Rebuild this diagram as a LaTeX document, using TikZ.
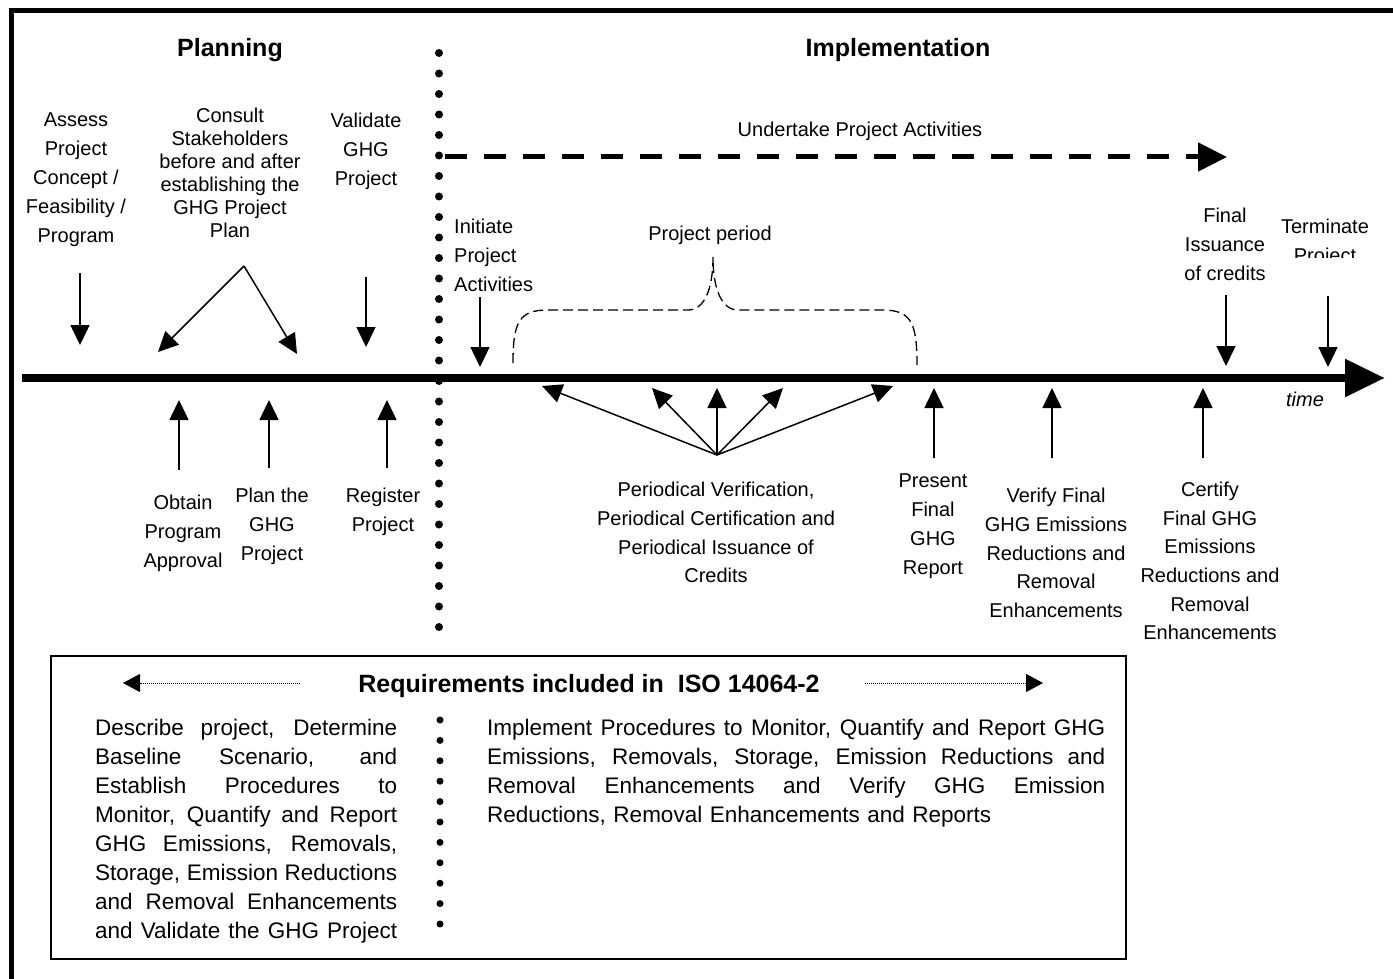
\documentclass[tikz,border=0pt]{standalone}
\usepackage{fontspec}
\setmainfont{Liberation Sans}
\usetikzlibrary{arrows.meta}

% a line of text whose inter-word spaces stretch to the given width
\newcommand{\fullline}[2]{\hbox to #1{\spaceskip=0.278em plus 1fil\relax #2}}

\begin{document}
\begin{tikzpicture}[x=1pt,y=-1pt,
  lbl/.style={inner sep=0pt, anchor=north, align=center, font=\fontsize{20}{29}\selectfont},
  ttl/.style={inner sep=0pt, anchor=north, font=\fontsize{25}{30}\selectfont\bfseries},
  boxtext/.style={inner sep=0pt, anchor=north west, align=left, font=\fontsize{22.5}{29}\selectfont},
  thinarrow/.style={line width=1.5pt, -{Triangle[length=20pt,width=19pt]}},
  dotarrow/.style={line width=0.8pt, dash pattern=on 0.8pt off 1.2pt, -{Triangle[length=17pt,width=18pt]}},
  bigdot/.style={fill=black}
]
\useasboundingbox (0,0) rectangle (1393,979);

% frame (top and left edges)
\coordinate (frTL) at (8.5,10.5);
\coordinate (frTR) at (1393,10.5);
\coordinate (frBL) at (11,979);
\draw[line width=5pt] (frTR) -- (frTL);
\draw[line width=5pt] (11,8) -- (frBL);

% headings
\node[ttl] (planning) at (230,38) {Planning};
\node[ttl] (implementation) at (898,38) {Implementation};

% time axis
\coordinate (tl0) at (22,378);
\coordinate (tl1) at (1385,378);
\draw[line width=8.5pt, -{Triangle[length=40pt,width=36pt]}] (tl0) -- (tl1);
\node[inner sep=0pt, anchor=north, font=\fontsize{20}{24}\selectfont\itshape] (time) at (1305,392) {time};

% undertake project activities
\node[lbl] (undertake) at (860,122) {Undertake Project Activities};
\coordinate (und0) at (445,157);
\coordinate (und1) at (1227,157);
\draw[line width=5pt, dash pattern=on 22pt off 17pt, -{Triangle[length=29pt,width=28pt]}] (und0) -- (und1);

% planning / implementation separator
\foreach \i in {0,...,28}
  \fill[bigdot] (439,{53+20.5*\i}) circle (4pt);

% labels above the axis
\node[lbl] (assess) at (76,113) {Assess\\Project\\Concept /\\Feasibility /\\Program};
\node[lbl, font=\fontsize{20}{23}\selectfont] (consult) at (230,108)
  {Consult\\Stakeholders\\before and after\\establishing the\\GHG Project\\Plan};
\node[lbl] (validate) at (366,113) {Validate\\GHG\\Project};
\node[lbl, anchor=north west, align=left] (initiate) at (454,219) {Initiate\\Project\\Activities};
\node[lbl] (period) at (710,226) {Project period};
\node[lbl] (finaliss) at (1225,208) {Final\\Issuance\\of credits};
\begin{scope}
  \clip (1262,190) rectangle (1393,257);
  \node[lbl] (terminate) at (1325,219) {Terminate\\Project};
\end{scope}

% arrows down to the axis
\coordinate (as0) at (80,273);   \coordinate (as1) at (80,345);
\draw[thinarrow] (as0) -- (as1);
\coordinate (co0) at (244,266);
\coordinate (co1) at (158,352);  \coordinate (co2) at (297,354);
\draw[thinarrow] (co0) -- (co1);
\draw[thinarrow] (co0) -- (co2);
\coordinate (va0) at (366,277);  \coordinate (va1) at (366,347);
\draw[thinarrow] (va0) -- (va1);
\coordinate (in0) at (480,297);  \coordinate (in1) at (480,367);
\draw[thinarrow] (in0) -- (in1);
\coordinate (fi0) at (1226,295); \coordinate (fi1) at (1226,366);
\draw[thinarrow] (fi0) -- (fi1);
\coordinate (te0) at (1328,296); \coordinate (te1) at (1328,367);
\draw[thinarrow] (te0) -- (te1);

% project period brace
\draw[line width=1.3pt, dash pattern=on 10pt off 5pt]
  (513,363) .. controls (513,322) and (519,310) .. (548,310) -- (688,310)
  .. controls (704,310) and (713,290) .. (713,257)
  .. controls (713,290) and (722,310) .. (738,310) -- (882,310)
  .. controls (911,310) and (917,322) .. (917,365);

% labels below the axis
\node[lbl] (obtain) at (183,495) {Obtain\\Program\\Approval};
\node[lbl] (plan) at (272,488) {Plan the\\GHG\\Project};
\node[lbl] (register) at (383,488) {Register\\Project};
\node[lbl, font=\fontsize{20}{28.7}\selectfont] (periodical) at (716,482)
  {Periodical Verification,\\Periodical Certification and\\Periodical Issuance of\\Credits};
\node[lbl] (present) at (933,474) {Present\\Final\\GHG\\Report};
\node[lbl, font=\fontsize{20}{28.7}\selectfont] (verify) at (1056,488)
  {Verify Final\\GHG Emissions\\Reductions and\\Removal\\Enhancements};
\node[lbl, font=\fontsize{20}{28.6}\selectfont] (certify) at (1210,482)
  {Certify\\Final GHG\\Emissions\\Reductions and\\Removal\\Enhancements};

% arrows up to the axis
\coordinate (ob0) at (179,470);  \coordinate (ob1) at (179,400);
\draw[thinarrow] (ob0) -- (ob1);
\coordinate (pl0) at (269,468);  \coordinate (pl1) at (269,400);
\draw[thinarrow] (pl0) -- (pl1);
\coordinate (re0) at (387,468);  \coordinate (re1) at (387,400);
\draw[thinarrow] (re0) -- (re1);
\coordinate (fan) at (717,455);
\coordinate (f1) at (542,386);
\coordinate (f2) at (652,388);
\coordinate (f3) at (717,388);
\coordinate (f4) at (783,388);
\coordinate (f5) at (893,386);
\foreach \t in {f1,f2,f3,f4,f5}
  \draw[thinarrow] (fan) -- (\t);
\coordinate (pr0) at (934,458);  \coordinate (pr1) at (934,388);
\draw[thinarrow] (pr0) -- (pr1);
\coordinate (ve0) at (1052,458); \coordinate (ve1) at (1052,388);
\draw[thinarrow] (ve0) -- (ve1);
\coordinate (ce0) at (1203,458); \coordinate (ce1) at (1203,388);
\draw[thinarrow] (ce0) -- (ce1);

% requirements box
\node[draw, line width=1.5pt, inner sep=0pt, minimum width=1075pt, minimum height=303pt,
      anchor=north west] (reqbox) at (50,655) {};
\node[ttl] (reqtitle) at (589,674) {Requirements included in\ \ ISO 14064-2};
\coordinate (ld0) at (300,683); \coordinate (ld1) at (123,683);
\draw[dotarrow] (ld0) -- (ld1);
\coordinate (rd0) at (865,683); \coordinate (rd1) at (1043,683);
\draw[dotarrow] (rd0) -- (rd1);

\node[boxtext, text width=302pt] (leftreq) at (95,719)
  {\fullline{302pt}{Describe project, Determine}
   \fullline{302pt}{Baseline Scenario, and}
   \fullline{302pt}{Establish Procedures to}
   \fullline{302pt}{Monitor, Quantify and Report}
   \fullline{302pt}{GHG Emissions, Removals,}
   \fullline{302pt}{Storage, Emission Reductions}
   \fullline{302pt}{and Removal Enhancements}
   \fullline{302pt}{and Validate the GHG Project}};
\node[boxtext, text width=618pt] (rightreq) at (487,719)
  {\fullline{618pt}{Implement Procedures to Monitor, Quantify and Report GHG}
   \fullline{618pt}{Emissions, Removals, Storage, Emission Reductions and}
   \fullline{618pt}{Removal Enhancements and Verify GHG Emission}
   \hbox{Reductions, Removal Enhancements and Reports}};

\foreach \i in {0,...,10}
  \fill[bigdot] (440,{720+20.4*\i}) circle (3.5pt);

\end{tikzpicture}
\end{document}
